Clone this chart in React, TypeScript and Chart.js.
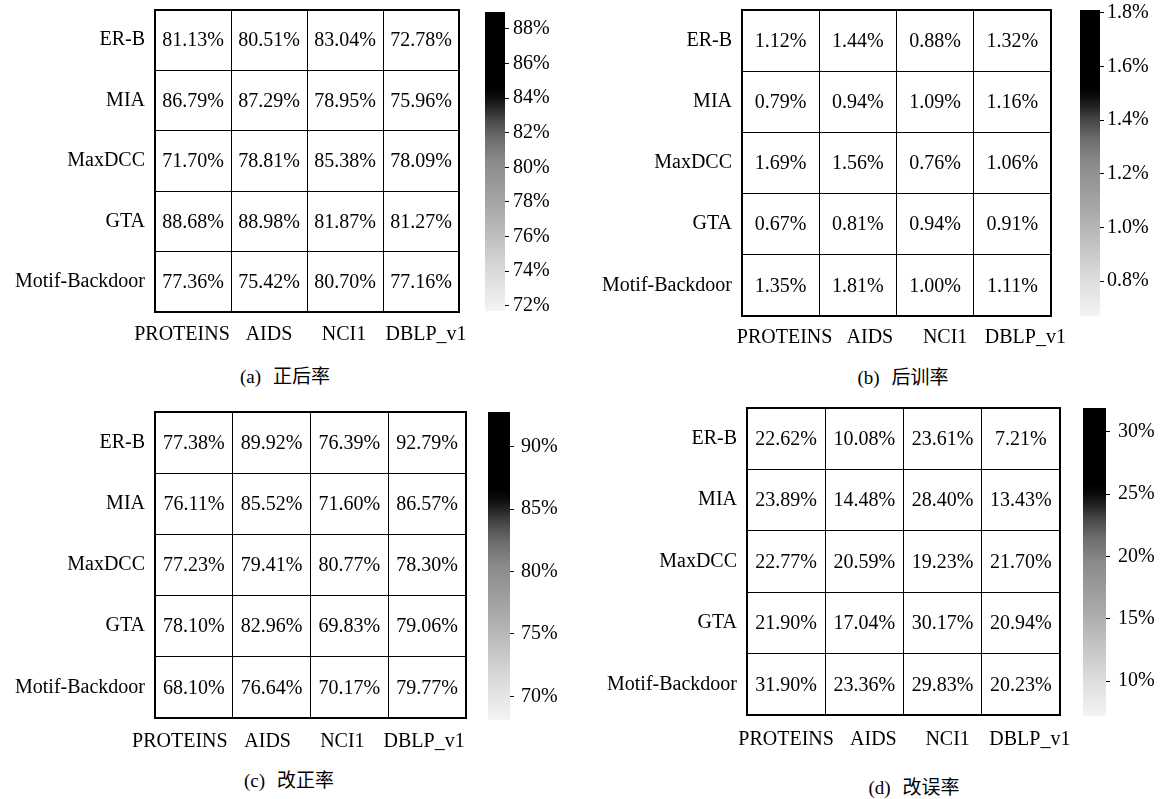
import React, { useEffect, useRef } from 'react';
import { Chart, registerables } from 'chart.js';

Chart.register(...registerables);

const SERIF = '"Liberation Serif", "Times New Roman", serif';
const CAPTION_FONT = '"Liberation Serif", "Noto Sans CJK SC", serif';

// Columns (datasets) and rows (attack methods) shared by all four heatmaps
const DATASETS = ['PROTEINS', 'AIDS', 'NCI1', 'DBLP_v1'];
const METHODS = ['ER-B', 'MIA', 'MaxDCC', 'GTA', 'Motif-Backdoor'];

// (a) 正后率
const ZHENG_HOU = [
  [81.13, 80.51, 83.04, 72.78],
  [86.79, 87.29, 78.95, 75.96],
  [71.7, 78.81, 85.38, 78.09],
  [88.68, 88.98, 81.87, 81.27],
  [77.36, 75.42, 80.7, 77.16],
];
// (b) 后训率
const HOU_XUN = [
  [1.12, 1.44, 0.88, 1.32],
  [0.79, 0.94, 1.09, 1.16],
  [1.69, 1.56, 0.76, 1.06],
  [0.67, 0.81, 0.94, 0.91],
  [1.35, 1.81, 1.0, 1.11],
];
// (c) 改正率
const GAI_ZHENG = [
  [77.38, 89.92, 76.39, 92.79],
  [76.11, 85.52, 71.6, 86.57],
  [77.23, 79.41, 80.77, 78.3],
  [78.1, 82.96, 69.83, 79.06],
  [68.1, 76.64, 70.17, 79.77],
];
// (d) 改误率
const GAI_WU = [
  [22.62, 10.08, 23.61, 7.21],
  [23.89, 14.48, 28.4, 13.43],
  [22.77, 20.59, 19.23, 21.7],
  [21.9, 17.04, 30.17, 20.94],
  [31.9, 23.36, 29.83, 20.23],
];

// Colour-bar tick values
const TICKS_A = [72, 74, 76, 78, 80, 82, 84, 86, 88];
const TICKS_B = [0.8, 1.0, 1.2, 1.4, 1.6, 1.8];
const TICKS_C = [70, 75, 80, 85, 90];
const TICKS_D = [10, 15, 20, 25, 30];

// Greyscale colour map, position measured from the low end
const GREY_STOPS: [number, string][] = [
  [0, '#f4f4f4'],
  [0.15, '#d6d6d6'],
  [0.35, '#a8a8a8'],
  [0.5, '#8a8a8a'],
  [0.58, '#6c6c6c'],
  [0.64, '#474747'],
  [0.68, '#262626'],
  [0.72, '#0a0a0a'],
  [0.75, '#000000'],
  [1, '#000000'],
];

const AXIS_W = 150;
const RIGHT_PAD = 24;
const X_AXIS_H = 50;

type Box = { l: number; t: number; r: number; b: number };

type PanelSpec = {
  tag: string;
  title: string;
  values: number[][];
  ticks: number[];
  decimals: number;
  top: number;
  height: number;
  grid: Box;
  colNudge: number[];
  colLabelDy: number;
  bar: Box;
  barCanvasRight: number;
  tickPad: number;
  caption: { x: number; y: number };
};

const PANELS: PanelSpec[] = [
  {
    tag: '(a)', title: '正后率', values: ZHENG_HOU, ticks: TICKS_A, decimals: 0,
    top: 0, height: 400,
    grid: { l: 155, t: 10, r: 459, b: 312 },
    colNudge: [-11, 0, -1, 5], colLabelDy: 23,
    bar: { l: 485, t: 12, r: 505, b: 311 },
    barCanvasRight: 580, tickPad: 4,
    caption: { x: 285, y: 376 },
  },
  {
    tag: '(b)', title: '后训率', values: HOU_XUN, ticks: TICKS_B, decimals: 1,
    top: 0, height: 400,
    grid: { l: 742, t: 10, r: 1051, b: 316 },
    colNudge: [4, 12, 10, 13], colLabelDy: 22,
    bar: { l: 1080, t: 10, r: 1100, b: 316 },
    barCanvasRight: 1165, tickPad: 3,
    caption: { x: 903, y: 377 },
  },
  {
    tag: '(c)', title: '改正率', values: GAI_ZHENG, ticks: TICKS_C, decimals: 0,
    top: 400, height: 399,
    grid: { l: 155, t: 412, r: 466, b: 718 },
    colNudge: [-14, -4, -7, -3], colLabelDy: 24,
    bar: { l: 488, t: 412, r: 510, b: 720 },
    barCanvasRight: 580, tickPad: 7,
    caption: { x: 289, y: 780 },
  },
  {
    tag: '(d)', title: '改误率', values: GAI_WU, ticks: TICKS_D, decimals: 0,
    top: 400, height: 399,
    grid: { l: 747, t: 408, r: 1060, b: 715 },
    colNudge: [0, 9, 5, 9], colLabelDy: 25,
    bar: { l: 1083, t: 408, r: 1106, b: 716 },
    barCanvasRight: 1165, tickPad: 8,
    caption: { x: 914, y: 787 },
  },
];

const tickFont = { family: SERIF, size: 20 };

// Scales must not widen the layout for overhanging labels
const noScalePadding = (s: any) => {
  s.paddingTop = 0;
  s.paddingBottom = 0;
  s.paddingLeft = 0;
  s.paddingRight = 0;
};

// Writes each cell's percentage at the centre of its bar element
const cellTextPlugin = {
  id: 'cellText',
  afterDraw(chart: any) {
    const ctx = chart.ctx;
    ctx.save();
    ctx.fillStyle = '#000';
    ctx.font = `20px ${SERIF}`;
    ctx.textAlign = 'center';
    ctx.textBaseline = 'middle';
    chart.data.datasets.forEach((ds: any, i: number) => {
      const meta = chart.getDatasetMeta(i);
      meta.data.forEach((el: any, j: number) => {
        const c = el.getCenterPoint();
        ctx.fillText(ds.cellValues[j].toFixed(2) + '%', c.x, c.y + 1);
      });
    });
    ctx.restore();
  },
};

// Column names under the grid, placed from the x scale's tick pixels
const columnLabelPlugin = {
  id: 'columnLabels',
  afterDraw(chart: any, _args: any, opts: any) {
    const { ctx, chartArea: a } = chart;
    const xs = chart.scales.x;
    ctx.save();
    ctx.fillStyle = '#000';
    ctx.font = `20px ${SERIF}`;
    ctx.textAlign = 'center';
    ctx.textBaseline = 'middle';
    chart.data.labels.forEach((lab: string, j: number) => {
      ctx.fillText(lab, xs.getPixelForTick(j) + (opts.nudge[j] || 0), a.bottom + opts.dy);
    });
    ctx.restore();
  },
};

// Heavier outline around the whole grid
const framePlugin = {
  id: 'frame',
  afterDraw(chart: any) {
    const { ctx, chartArea: a } = chart;
    ctx.save();
    ctx.lineWidth = 2;
    ctx.strokeStyle = '#000';
    ctx.strokeRect(a.left, a.top, a.right - a.left, a.bottom - a.top);
    ctx.restore();
  },
};

function Heatmap({ spec }: { spec: PanelSpec }) {
  const ref = useRef<HTMLCanvasElement>(null);
  const { grid, top, values } = spec;
  const left = grid.l - AXIS_W;
  const width = grid.r + RIGHT_PAD - left;
  const height = grid.b - top + X_AXIS_H;

  useEffect(() => {
    if (!ref.current) return;
    const chart = new Chart(ref.current, {
      type: 'bar',
      data: {
        labels: DATASETS,
        datasets: values.map((row, i) => ({
          label: METHODS[i],
          data: row.map(() => 1),
          cellValues: row,
          yAxisID: 'yv',
          backgroundColor: '#ffffff',
          borderWidth: 0,
          barPercentage: 1,
          categoryPercentage: 1,
        })) as any,
      },
      options: {
        responsive: false,
        animation: false,
        events: [],
        layout: { padding: { top: grid.t - top, right: RIGHT_PAD, left: 0, bottom: 0 } },
        plugins: {
          legend: { display: false },
          tooltip: { enabled: false },
          columnLabels: { nudge: spec.colNudge, dy: spec.colLabelDy },
        },
        scales: {
          x: {
            type: 'category',
            offset: true,
            stacked: true,
            grid: { offset: true, color: '#000', lineWidth: 1, drawTicks: false, z: 1 },
            border: { display: false },
            ticks: { display: false },
            afterFit: (s: any) => { s.height = X_AXIS_H; noScalePadding(s); },
          },
          y: {
            type: 'category',
            labels: METHODS,
            offset: true,
            position: 'left',
            grid: { offset: true, color: '#000', lineWidth: 1, drawTicks: false, z: 1 },
            border: { display: false },
            ticks: { color: '#000', font: tickFont, padding: 10, autoSkip: false },
            afterFit: (s: any) => { s.width = AXIS_W; noScalePadding(s); },
          },
          yv: {
            type: 'linear',
            display: false,
            min: 0,
            max: METHODS.length,
            reverse: true,
            stacked: true,
          },
        },
      } as any,
      plugins: [cellTextPlugin, columnLabelPlugin, framePlugin],
    });
    return () => chart.destroy();
  }, []);

  return (
    <canvas
      ref={ref}
      width={width}
      height={height}
      style={{ position: 'absolute', left, top, width, height }}
    />
  );
}

function ColorBar({ spec }: { spec: PanelSpec }) {
  const ref = useRef<HTMLCanvasElement>(null);
  const { bar, top, height, values, ticks, decimals, barCanvasRight, tickPad } = spec;
  const left = bar.l - 5;
  const width = barCanvasRight - left;

  useEffect(() => {
    if (!ref.current) return;
    const flat = values.flat();
    const vmin = Math.min(...flat);
    const vmax = Math.max(...flat);
    const chart = new Chart(ref.current, {
      type: 'bar',
      data: {
        labels: [''],
        datasets: [
          {
            data: [[vmin, vmax]],
            borderWidth: 0,
            barPercentage: 1,
            categoryPercentage: 1,
            backgroundColor: (ctx: any) => {
              const c = ctx.chart;
              if (!c.chartArea) return '#888';
              const y = c.scales.y;
              const g = c.ctx.createLinearGradient(0, y.getPixelForValue(vmin), 0, y.getPixelForValue(vmax));
              GREY_STOPS.forEach(([p, col]) => g.addColorStop(p, col));
              return g;
            },
          },
        ] as any,
      },
      options: {
        responsive: false,
        animation: false,
        events: [],
        layout: { padding: { left: 5, top: bar.t - top, bottom: top + height - bar.b, right: 0 } },
        plugins: { legend: { display: false }, tooltip: { enabled: false } },
        scales: {
          x: { display: false },
          y: {
            position: 'right',
            min: vmin,
            max: vmax,
            afterBuildTicks: (s: any) => { s.ticks = ticks.map((v) => ({ value: v })); },
            afterFit: (s: any) => { s.width = barCanvasRight - bar.r; noScalePadding(s); },
            grid: { display: true, drawOnChartArea: false, drawTicks: true, tickLength: 4, color: '#000', lineWidth: 1 },
            border: { display: false },
            ticks: {
              color: '#000', font: tickFont, padding: tickPad, autoSkip: false,
              callback: (v: any) => Number(v).toFixed(decimals) + '%',
            },
          },
        },
      } as any,
    });
    return () => chart.destroy();
  }, []);

  return (
    <canvas
      ref={ref}
      width={width}
      height={height}
      style={{ position: 'absolute', left, top, width, height }}
    />
  );
}

function Caption({ spec }: { spec: PanelSpec }) {
  return (
    <div
      style={{
        position: 'absolute',
        left: spec.caption.x,
        top: spec.caption.y,
        transform: 'translate(-50%, -50%)',
        whiteSpace: 'nowrap',
        fontFamily: CAPTION_FONT,
        fontSize: 19,
        lineHeight: 1,
        color: '#000',
      }}
    >
      <span>{spec.tag}</span>
      <span style={{ marginLeft: 12 }}>{spec.title}</span>
    </div>
  );
}

export default function App() {
  return (
    <div
      style={{
        position: 'fixed',
        left: 0,
        top: 0,
        width: 1165,
        height: 799,
        background: '#fff',
        overflow: 'hidden',
      }}
    >
      {PANELS.map((p) => (
        <React.Fragment key={p.tag}>
          <Heatmap spec={p} />
          <ColorBar spec={p} />
          <Caption spec={p} />
        </React.Fragment>
      ))}
    </div>
  );
}
